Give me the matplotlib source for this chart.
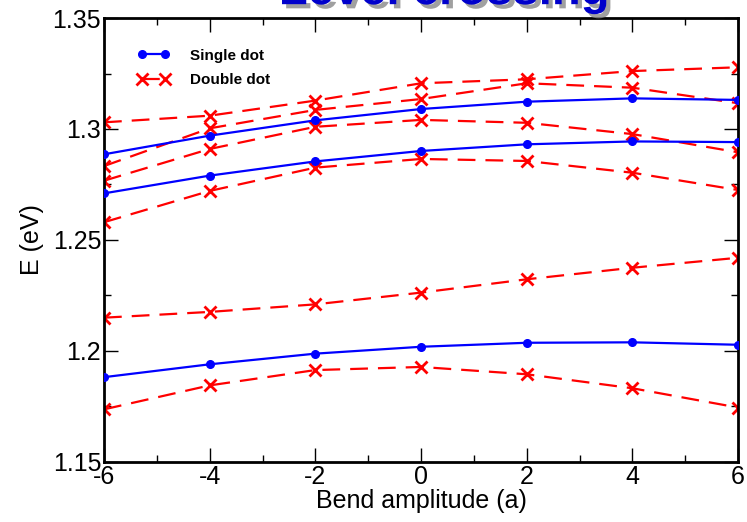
import matplotlib
matplotlib.use("Agg")
import matplotlib.pyplot as plt
import matplotlib.patheffects as pe
from matplotlib.ticker import MultipleLocator, FixedLocator

plt.rcParams['font.family'] = ['Liberation Sans', 'DejaVu Sans']
plt.rcParams['axes.unicode_minus'] = False

# 弯曲幅度 (a)
bend = [-6, -4, -2, 0, 2, 4, 6]

# Single dot levels (eV)
single_1 = [1.2886, 1.2970, 1.3039, 1.3090, 1.3123, 1.3138, 1.3131]
single_2 = [1.2710, 1.2790, 1.2854, 1.2901, 1.2931, 1.2944, 1.2941]
single_3 = [1.1882, 1.1940, 1.1988, 1.2019, 1.2037, 1.2039, 1.2028]

# Double dot levels (eV)
double_1 = [1.3030, 1.3060, 1.3128, 1.3206, 1.3224, 1.3261, 1.3278]
double_2 = [1.2833, 1.3003, 1.3086, 1.3135, 1.3206, 1.3186, 1.3116]
double_3 = [1.2767, 1.2910, 1.3010, 1.3041, 1.3028, 1.2977, 1.2895]
double_4 = [1.2580, 1.2721, 1.2826, 1.2865, 1.2856, 1.2803, 1.2725]
double_5 = [1.2150, 1.2176, 1.2210, 1.2263, 1.2323, 1.2375, 1.2420]
double_6 = [1.1737, 1.1845, 1.1914, 1.1928, 1.1895, 1.1832, 1.1745]

yticks = [1.15, 1.2, 1.25, 1.3, 1.35]
ytick_labels = ['1.15', '1.2', '1.25', '1.3', '1.35']

fig = plt.figure(figsize=(7.47, 5.22), dpi=100)
ax = fig.add_axes([0.1392, 0.115, 0.849, 0.8505])

singles = [single_1, single_2, single_3]
doubles = [double_1, double_2, double_3, double_4, double_5, double_6]

for i, s in enumerate(doubles):
    ax.plot(bend, s, color='#ff0000', ls=(0, (8, 4.5)), lw=1.6, marker='x',
            ms=9, mew=2, label='Double dot' if i == 0 else None, zorder=2)
for i, s in enumerate(singles):
    ax.plot(bend, s, color='#0000ff', ls='-', lw=1.6, marker='o',
            ms=5.5, label='Single dot' if i == 0 else None, zorder=3)

ax.set_xlim(-6, 6)
ax.set_ylim(1.15, 1.35)
ax.xaxis.set_major_locator(MultipleLocator(2))
ax.xaxis.set_minor_locator(MultipleLocator(1))
ax.yaxis.set_major_locator(FixedLocator(yticks))
ax.set_yticklabels(ytick_labels)
ax.yaxis.set_minor_locator(MultipleLocator(0.025))
ax.tick_params(which='both', direction='in', top=True, right=True, labelsize=18, pad=2)
ax.tick_params(which='major', length=10, width=1)
ax.tick_params(which='minor', length=5, width=1)
for sp in ax.spines.values():
    sp.set_linewidth(2)

ax.set_xlabel('Bend amplitude (a)', fontsize=18, labelpad=0)
ax.set_ylabel('E (eV)', fontsize=18, labelpad=6)

handles, labels = ax.get_legend_handles_labels()
order = [labels.index('Single dot'), labels.index('Double dot')]
leg = ax.legend([handles[k] for k in order], [labels[k] for k in order],
                loc='upper left', bbox_to_anchor=(0.031, 0.962), frameon=False,
                numpoints=2, handlelength=2.1, handletextpad=1.35, labelspacing=0.7,
                prop={'family': 'Liberation Sans', 'weight': 'bold', 'size': 11})

# 标题（上部被裁掉）
fig.text(0.595, 0.992, 'Level crossing', ha='center', va='baseline',
         fontsize=34, weight='bold', color='#0000cc', family='Liberation Sans',
         path_effects=[pe.withSimplePatchShadow(offset=(3, -3), shadow_rgbFace='#888888', alpha=0.8)])

fig.savefig('out.png', dpi=100)
